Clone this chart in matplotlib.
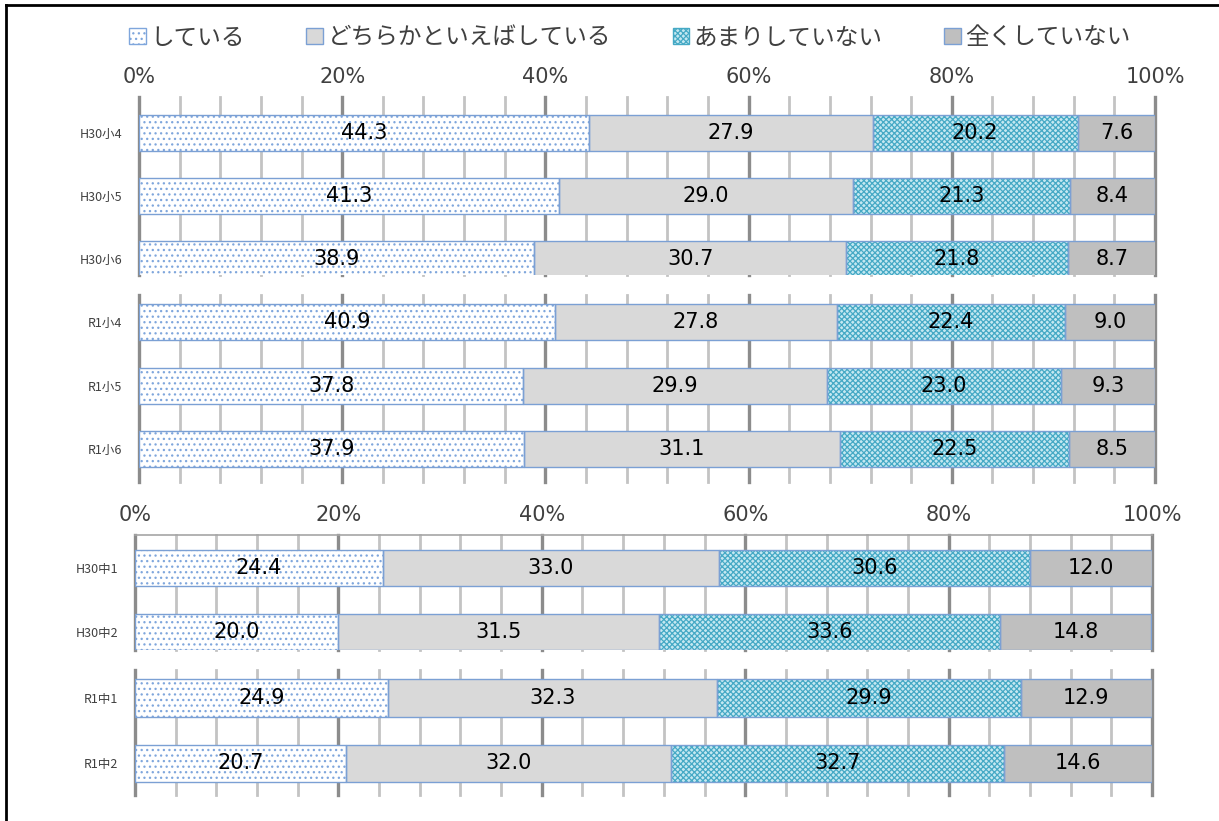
import numpy as np
import matplotlib
matplotlib.use("Agg")
import matplotlib.pyplot as plt
from matplotlib.lines import Line2D
from matplotlib.patches import Patch

plt.rcParams["font.family"] = ["Noto Sans CJK JP", "DejaVu Sans"]
plt.rcParams["hatch.linewidth"] = 0.9

SERIES = ["している", "どちらかといえばしている", "あまりしていない", "全くしていない"]

CATS_A = ["H30小4", "H30小5", "H30小6"]
VALS_A = [[44.3, 27.9, 20.2, 7.6],
          [41.3, 29.0, 21.3, 8.4],
          [38.9, 30.7, 21.8, 8.7]]
CATS_B = ["R1小4", "R1小5", "R1小6"]
VALS_B = [[40.9, 27.8, 22.4, 9.0],
          [37.8, 29.9, 23.0, 9.3],
          [37.9, 31.1, 22.5, 8.5]]
CATS_C = ["H30中1", "H30中2"]
VALS_C = [[24.4, 33.0, 30.6, 12.0],
          [20.0, 31.5, 33.6, 14.8]]
CATS_D = ["R1中1", "R1中2"]
VALS_D = [[24.9, 32.3, 29.9, 12.9],
          [20.7, 32.0, 32.7, 14.6]]

TICKS = [0, 20, 40, 60, 80, 100]

# fill, hatch, hatch colour
STYLES = [
    ("white", "...", "#7fa6dc"),
    ("#d9d9d9", None, None),
    ("#c4e8f1", "xxxxxx", "#45a9c5"),
    ("#bfbfbf", None, None),
]
EDGE = "#7ba0d4"
MUTED = "#404040"

W, H = 1219, 821
fig = plt.figure(figsize=(W / 100, H / 100), dpi=100)


def px_axes(x0, x1, y_top, y_bot):
    return fig.add_axes([x0 / W, 1 - y_bot / H, (x1 - x0) / W, (y_bot - y_top) / H])


def block(ax, cats, vals, ylim, show_ticks, height=0.57):
    vals = np.array(vals)
    y = np.arange(len(cats))
    ax.set_xlim(0, 100)
    ax.set_ylim(*ylim)
    for s in ax.spines.values():
        s.set_visible(False)
    # grid: light every 4%, darker every 20%
    for g in np.arange(0, 101, 4):
        major = g % 20 == 0
        ax.axvline(g, color="#8c8c8c" if major else "#c3c3c3",
                   lw=2.4 if major else 2.0, zorder=1, clip_on=False)
    left = np.zeros(len(cats))
    for j, (fill, hatch, hcol) in enumerate(STYLES):
        v = vals[:, j]
        ax.barh(y, v, left=left, height=height, color=fill,
                hatch=hatch, edgecolor=hcol if hatch else fill, lw=0, zorder=2)
        ax.barh(y, v, left=left, height=height, fill=False,
                edgecolor=EDGE, lw=1.0, zorder=3)
        for yi, li, vi in zip(y, left, v):
            ax.text(li + vi / 2, yi, f"{vi:.1f}", ha="center", va="center",
                    fontsize=15, color="black", family="DejaVu Sans", zorder=4)
        left = left + v
    ax.set_yticks(y, cats)
    ax.tick_params(axis="y", length=0, pad=12, labelsize=9, labelcolor=MUTED)
    if show_ticks:
        ax.xaxis.tick_top()
        ax.set_xticks(TICKS, [f"{t}%" for t in TICKS])
        ax.tick_params(axis="x", length=0, pad=7, labelsize=15, labelcolor=MUTED)
        for lbl in ax.get_xticklabels():
            lbl.set_family("DejaVu Sans")
    else:
        ax.set_xticks([])


axA = px_axes(139, 1155, 97, 275)
block(axA, CATS_A, VALS_A, (2.25, -0.57), True)
axB = px_axes(139, 1155, 295, 482)
block(axB, CATS_B, VALS_B, (2.52, -0.43), False)
axC = px_axes(135, 1152, 535, 650)
block(axC, CATS_C, VALS_C, (1.28, -0.52), True)
axC.axhline(-0.52, color="#a6a6a6", lw=1.2, zorder=1, clip_on=False)
axD = px_axes(135, 1152, 670, 795)
block(axD, CATS_D, VALS_D, (1.49, -0.43), False)

handles = []
for (fill, hatch, hcol) in STYLES:
    handles.append(Patch(facecolor=fill, hatch=hatch,
                         edgecolor=hcol if hatch else EDGE, lw=1.0))
fig.legend(handles, SERIES, loc="center", bbox_to_anchor=(630 / W, 1 - 38 / H),
           ncol=4, frameon=False, fontsize=17, labelcolor=MUTED,
           handlelength=0.7, handleheight=0.7, handletextpad=0.2,
           columnspacing=2.6)

# outer frame (left and top edges visible in the reference)
fig.add_artist(Line2D([6 / W, 6 / W], [0, 1 - 5 / H], color="black", lw=2))
fig.add_artist(Line2D([6 / W, 1], [1 - 5 / H, 1 - 5 / H], color="black", lw=2))

fig.savefig("out.png", dpi=100)
